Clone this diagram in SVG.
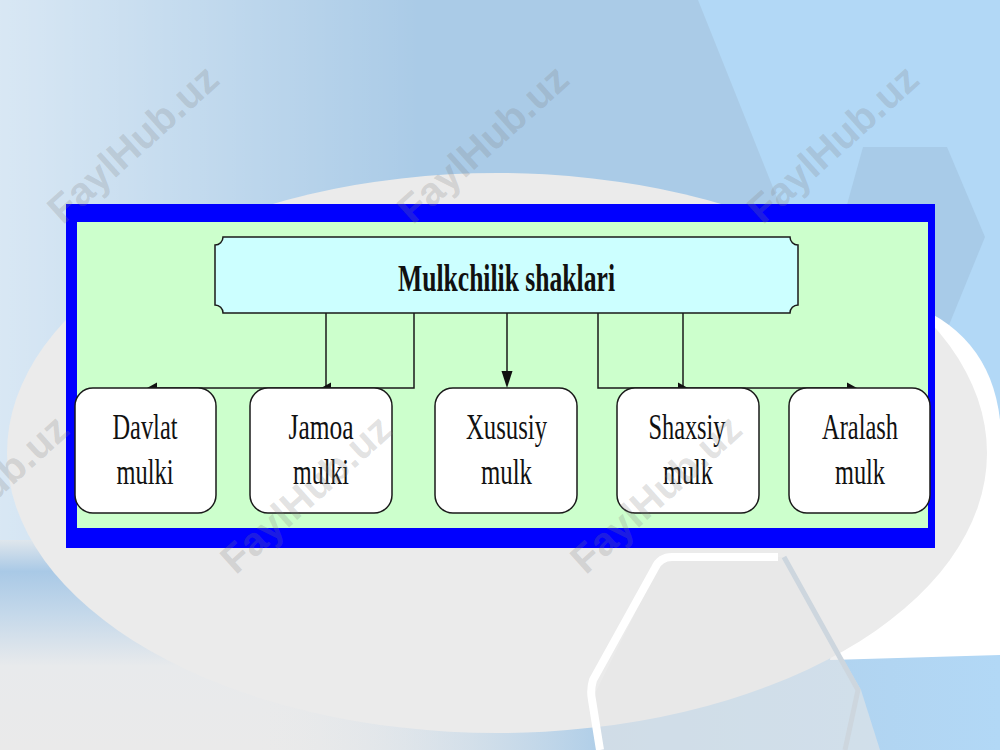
<svg xmlns="http://www.w3.org/2000/svg" width="1000" height="750" viewBox="0 0 1000 750">
  <defs>
    <linearGradient id="gLeft" x1="0" y1="0" x2="1" y2="0">
      <stop offset="0" stop-color="#ffffff" stop-opacity="0.55"/>
      <stop offset="1" stop-color="#ffffff" stop-opacity="0"/>
    </linearGradient>
    <linearGradient id="gBottom" x1="0" y1="0" x2="0" y2="1">
      <stop offset="0" stop-color="#dfe6ec"/>
      <stop offset="0.15" stop-color="#a9c9e6"/>
      <stop offset="0.35" stop-color="#c4d8ea"/>
      <stop offset="0.6" stop-color="#e8eaec"/>
      <stop offset="1" stop-color="#eaeaea"/>
    </linearGradient>
    <linearGradient id="gBotFade" x1="0" y1="0" x2="1" y2="0">
      <stop offset="0" stop-color="#ebebeb" stop-opacity="0"/>
      <stop offset="0.25" stop-color="#ebebeb" stop-opacity="0"/>
      <stop offset="0.6" stop-color="#a9cbe8" stop-opacity="0.9"/>
      <stop offset="1" stop-color="#b2d8f6" stop-opacity="1"/>
    </linearGradient>
    <style>
      .box { fill: #ffffff; stroke: #1a1a1a; stroke-width: 1.5; }
      .conn { fill: none; stroke: #1a1a1a; stroke-width: 1.5; }
      .head { fill: #111111; stroke: none; }
      .lbl { font-family: "Liberation Serif", "Times New Roman", serif; font-size: 36px; fill: #111111; text-anchor: middle; }
      .ttl { font-family: "Liberation Serif", "Times New Roman", serif; font-size: 38px; font-weight: bold; fill: #111111; text-anchor: middle; }
      .wm { font-family: "Liberation Sans", Arial, sans-serif; font-size: 40px; font-weight: bold; fill: #808080; fill-opacity: 0.24; text-anchor: middle; }
    </style>
  </defs>

  <!-- background -->
  <rect x="0" y="0" width="1000" height="750" fill="#aacbe7"/>
  <rect x="0" y="0" width="420" height="560" fill="url(#gLeft)"/>
  <polygon points="698,0 1000,0 1000,750 880,750 790,230" fill="#b2d8f6"/>
  <polygon points="863,147 947,147 985,237 947,330 863,330 838,237" fill="#a8cbe8"/>
  <rect x="0" y="540" width="1000" height="210" fill="url(#gBottom)"/>
  <rect x="0" y="650" width="1000" height="100" fill="url(#gBotFade)"/>
  <path d="M 900 300 Q 990 330 1000 420 L 1000 655 L 830 660 Z" fill="#ffffff"/>
  <ellipse cx="497" cy="453" rx="490" ry="280" fill="#ebebeb"/>
  <polygon points="663,557 784,557 861,690 880,750 600,750 593,697" fill="#e6e6e6" opacity="0.6"/>
  <path d="M 600 750 L 592 700 Q 590 690 593 680 L 655 568 Q 660 557 672 557 L 778 557" fill="none" stroke="#ffffff" stroke-width="8" stroke-linejoin="round"/>
  <path d="M 784 557 L 858 690 L 845 750" fill="none" stroke="#cdd6de" stroke-width="5"/>

  <!-- frame -->
  <rect x="66" y="204" width="869" height="344" fill="#0000ff"/>
  <rect x="77" y="222" width="851" height="306" fill="#ccffcc"/>

  <!-- connectors -->
  <g id="connectors">
    <path class="conn" d="M 414 313 V 388 H 156"/>
    <path class="conn" d="M 326 313 V 388"/>
    <path class="conn" d="M 507 313 V 373"/>
    <path class="conn" d="M 598 313 V 388 H 848"/>
    <path class="conn" d="M 683 313 V 388"/>
    <polygon class="head" points="147,388 157,382.5 157,393.5"/>
    <polygon class="head" points="321,388 331,382.5 331,393.5"/>
    <polygon class="head" points="507,388 501.5,371 512.5,371"/>
    <polygon class="head" points="688,388 678,382.5 678,393.5"/>
    <polygon class="head" points="857,388 847,382.5 847,393.5"/>
  </g>

  <!-- top node -->
  <g id="node-root">
    <path d="M 223 237 H 790 A 8 8 0 0 0 798 245 V 305 A 8 8 0 0 0 790 313 H 223 A 8 8 0 0 0 215 305 V 245 A 8 8 0 0 0 223 237 Z" fill="#ccffff" stroke="#1a1a1a" stroke-width="1.5"/>
    <text class="ttl" x="506.5" y="291" textLength="217" lengthAdjust="spacingAndGlyphs">Mulkchilik shaklari</text>
  </g>

  <g id="node-davlat">
    <rect class="box" x="75" y="388" width="141" height="125" rx="18" ry="18"/>
    <text class="lbl" x="145" y="439" textLength="65" lengthAdjust="spacingAndGlyphs">Davlat</text>
    <text class="lbl" x="145" y="484" textLength="57" lengthAdjust="spacingAndGlyphs">mulki</text>
  </g>

  <g id="node-jamoa">
    <rect class="box" x="250" y="388" width="142" height="125" rx="18" ry="18"/>
    <text class="lbl" x="321" y="439" textLength="65" lengthAdjust="spacingAndGlyphs">Jamoa</text>
    <text class="lbl" x="321" y="484" textLength="56" lengthAdjust="spacingAndGlyphs">mulki</text>
  </g>

  <g id="node-xususiy">
    <rect class="box" x="435" y="388" width="142" height="125" rx="18" ry="18"/>
    <text class="lbl" x="506.5" y="439" textLength="81" lengthAdjust="spacingAndGlyphs">Xususiy</text>
    <text class="lbl" x="506.5" y="484" textLength="51" lengthAdjust="spacingAndGlyphs">mulk</text>
  </g>

  <g id="node-shaxsiy">
    <rect class="box" x="617" y="388" width="142" height="125" rx="18" ry="18"/>
    <text class="lbl" x="687" y="439" textLength="77" lengthAdjust="spacingAndGlyphs">Shaxsiy</text>
    <text class="lbl" x="688" y="484" textLength="50" lengthAdjust="spacingAndGlyphs">mulk</text>
  </g>

  <g id="node-aralash">
    <rect class="box" x="789" y="388" width="141" height="125" rx="18" ry="18"/>
    <text class="lbl" x="860" y="439" textLength="76" lengthAdjust="spacingAndGlyphs">Aralash</text>
    <text class="lbl" x="860" y="484" textLength="50" lengthAdjust="spacingAndGlyphs">mulk</text>
  </g>

  <!-- watermarks -->
  <g id="watermarks">
    <text class="wm" transform="translate(142,154) rotate(-42)">FaylHub.uz</text>
    <text class="wm" transform="translate(492,154) rotate(-42)">FaylHub.uz</text>
    <text class="wm" transform="translate(842,154) rotate(-42)">FaylHub.uz</text>
    <text class="wm" transform="translate(-8,504) rotate(-42)">FaylHub.uz</text>
    <text class="wm" transform="translate(315,504) rotate(-42)">FaylHub.uz</text>
    <text class="wm" transform="translate(665,504) rotate(-42)">FaylHub.uz</text>
  </g>
</svg>
